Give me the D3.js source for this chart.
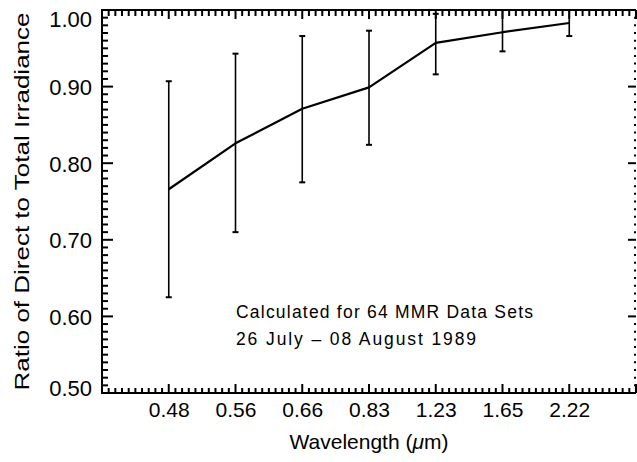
<!DOCTYPE html>
<html>
<head>
<meta charset="utf-8">
<script src="https://cdn.jsdelivr.net/npm/d3@7"></script>
<style>
  body { margin: 0; background: #fff; }
  svg { display: block; }
  .axis text { font-family: "Liberation Sans", Arial, sans-serif; fill: #000; }
</style>
</head>
<body>
<div id="chart"></div>
<script>
// wavelength channels (tick labels) and the ratio
const wavelengths = ['0.48', '0.56', '0.66', '0.83', '1.23', '1.65', '2.22'];
const ratio = [0.766, 0.826, 0.871, 0.899, 0.957, 0.971, 0.983];
const errHigh = [0.907, 0.943, 0.966, 0.973, 0.995, 1.000, 1.000];
const errLow = [0.625, 0.710, 0.775, 0.824, 0.916, 0.946, 0.966];
const yTicks = [0.5, 0.6, 0.7, 0.8, 0.9, 1.0];
const notes = ['Calculated for 64 MMR Data Sets', '26 July \u2013 08 August 1989'];

const width = 637, height = 462;
const plot = { left: 102, right: 636, top: 10, bottom: 393 };

const svg = d3.select('#chart').append('svg')
  .attr('width', width)
  .attr('height', height);

// x runs over slots 0..8, data sit on slots 1..7
const x = d3.scaleLinear().domain([0, 8]).range([plot.left, plot.right]);
const y = d3.scaleLinear().domain([0.5, 1.0]).range([plot.bottom, plot.top]);

const xMajor = d3.range(0, 9);
const xMinor = d3.range(0, 80).filter(i => i % 10 !== 0).map(i => i / 10);
const yMinor = d3.range(50, 100).filter(i => i % 10 !== 0).map(i => i / 100);

// tick labels from d3 axes (tick lines drawn separately below)
svg.append('g')
  .attr('class', 'axis')
  .attr('transform', `translate(0,${plot.bottom})`)
  .call(d3.axisBottom(x)
    .tickValues(d3.range(1, 8))
    .tickSize(0)
    .tickPadding(9)
    .tickFormat(d => wavelengths[d - 1]))
  .call(g => g.select('.domain').remove())
  .call(g => g.selectAll('text').attr('font-size', 21));

svg.append('g')
  .attr('class', 'axis')
  .attr('transform', `translate(${plot.left},0)`)
  .call(d3.axisLeft(y)
    .tickValues(yTicks)
    .tickSize(0)
    .tickPadding(10)
    .tickFormat(d3.format('.2f')))
  .call(g => g.select('.domain').remove())
  .call(g => g.selectAll('text')
    .attr('font-size', 22)
    .attr('dy', d => d === 1 ? '0.75em' : d === 0.5 ? '0.12em' : '0.36em'));

// tick marks, all pointing into the plot
function hTicks(vals, y0, len, w) {
  svg.append('g').selectAll('line')
    .data(vals)
    .join('line')
    .attr('x1', d => x(d))
    .attr('x2', d => x(d))
    .attr('y1', y0)
    .attr('y2', y0 + len)
    .attr('stroke', '#000')
    .attr('stroke-width', w);
}
function vTicks(vals, x0, len, w) {
  svg.append('g').selectAll('line')
    .data(vals)
    .join('line')
    .attr('y1', d => y(d))
    .attr('y2', d => y(d))
    .attr('x1', x0)
    .attr('x2', x0 + len)
    .attr('stroke', '#000')
    .attr('stroke-width', w);
}

hTicks(xMinor, plot.bottom, -5, 2);
hTicks(xMajor, plot.bottom, -9, 2);
hTicks(xMinor, plot.top, 6, 2);
hTicks(xMajor, plot.top, 9, 2);
vTicks(yMinor, plot.left, 6, 2);
vTicks(yTicks, plot.left, 11, 2);
// right side has no solid line, only dotted ticks
vTicks(yMinor, plot.right, -2, 2);
vTicks(yTicks, plot.right, -8, 2);

// frame: left, top, bottom
svg.append('path')
  .attr('d', `M${plot.right},${plot.top}H${plot.left}V${plot.bottom}H${plot.right}`)
  .attr('fill', 'none')
  .attr('stroke', '#000')
  .attr('stroke-width', 2);

// error bars
const bars = svg.append('g').selectAll('g')
  .data(wavelengths)
  .join('g');

bars.append('line')
  .attr('x1', (d, i) => x(i + 1))
  .attr('x2', (d, i) => x(i + 1))
  .attr('y1', (d, i) => y(errLow[i]))
  .attr('y2', (d, i) => y(errHigh[i]))
  .attr('stroke', '#000')
  .attr('stroke-width', 1.6);

[errLow, errHigh].forEach(arr => {
  bars.append('line')
    .attr('x1', (d, i) => x(i + 1) - 3)
    .attr('x2', (d, i) => x(i + 1) + 3)
    .attr('y1', (d, i) => y(arr[i]))
    .attr('y2', (d, i) => y(arr[i]))
    .attr('stroke', '#000')
    .attr('stroke-width', 2);
});

// ratio curve
const line = d3.line()
  .x((d, i) => x(i + 1))
  .y(d => y(d));

svg.append('path')
  .datum(ratio)
  .attr('d', line)
  .attr('fill', 'none')
  .attr('stroke', '#000')
  .attr('stroke-width', 2.2)
  .attr('stroke-linejoin', 'round');

// titles
const font = '"Liberation Sans", Arial, sans-serif';

const xTitle = svg.append('text')
  .attr('x', (plot.left + plot.right) / 2)
  .attr('y', 449)
  .attr('text-anchor', 'middle')
  .attr('font-family', font)
  .attr('font-size', 21);
xTitle.append('tspan').text('Wavelength (');
xTitle.append('tspan').attr('font-style', 'italic').text('\u03bc');
xTitle.append('tspan').text('m)');

svg.append('text')
  .attr('transform', `translate(29,${(plot.top + plot.bottom) / 2}) rotate(-90)`)
  .attr('text-anchor', 'middle')
  .attr('font-family', font)
  .attr('font-size', 21)
  .attr('textLength', 378)
  .attr('lengthAdjust', 'spacingAndGlyphs')
  .text('Ratio of Direct to Total Irradiance');

svg.selectAll('.note')
  .data(notes)
  .join('text')
  .attr('class', 'note')
  .attr('x', 236)
  .attr('y', (d, i) => 318 + i * 27)
  .attr('font-family', font)
  .attr('font-size', 17.5)
  .attr('textLength', (d, i) => i === 0 ? 297 : 240)
  .attr('lengthAdjust', 'spacing')
  .text(d => d);
</script>
</body>
</html>
